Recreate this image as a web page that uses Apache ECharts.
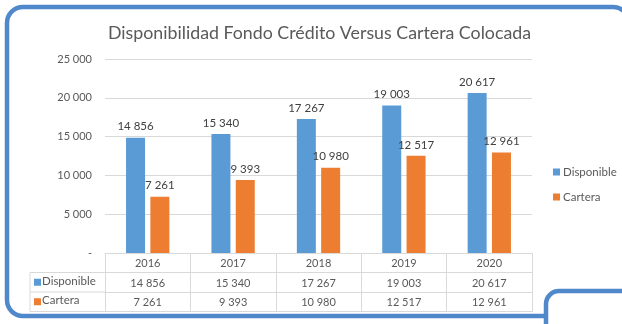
<!DOCTYPE html>
<html>
<head>
<meta charset="utf-8">
<script src="https://cdn.jsdelivr.net/npm/echarts@6/dist/echarts.min.js"></script>
<style>
  html, body { margin: 0; padding: 0; background: #ffffff; }
  #chart { width: 622px; height: 324px; }
</style>
</head>
<body>
<div id="chart"></div>
<script>
// Source values
const years = ['2016', '2017', '2018', '2019', '2020'];
const disponible = [14856, 15340, 17267, 19003, 20617];
const cartera = [7261, 9393, 10980, 12517, 12961];
const seriesNames = ['Disponible', 'Cartera'];
const yMax = 25000;
const yStep = 5000;

// Layout of the plot and its data table
const FONT = 'Lato, "Open Sans", sans-serif';
const TEXT = '#595959';
const LINE = '#d9d9d9';
const BLUE = '#5B9BD5';
const ORANGE = '#ED7D31';
const FRAME = '#4F89CC';
const W = 622, H = 324;
const gridLeft = 105, gridRight = 532, gridTop = 59, gridBottom = 253;
const rowH = 19.5;
const tableLeft = 30;

// thousands with a space, as in "14 856"
const fmt = v => String(v).replace(/\B(?=(\d{3})+(?!\d))/g, ' ');

const chart = echarts.init(document.getElementById('chart'), null, { renderer: 'canvas' });

const tableAxis = (idx, labels, showLabels) => ({
  type: 'category',
  data: labels,
  position: 'bottom',
  offset: rowH * idx,
  axisLine: { show: true, lineStyle: { color: LINE, width: 1 } },
  axisTick: { show: false },
  axisLabel: {
    show: showLabels, margin: 5, color: TEXT, fontFamily: FONT, fontSize: 11
  },
  splitLine: { show: false }
});

const rowY = i => gridBottom + rowH * i;

const option = {
  backgroundColor: '#ffffff',
  animation: false,
  title: {
    text: 'Disponibilidad Fondo Crédito Versus Cartera Colocada',
    left: (gridLeft + gridRight) / 2 - 4,
    textAlign: 'center',
    top: 19,
    textStyle: { color: TEXT, fontFamily: FONT, fontSize: 17.8, fontWeight: 'normal' }
  },
  legend: {
    data: seriesNames,
    orient: 'vertical',
    left: 548,
    top: 161,
    itemWidth: 7,
    itemHeight: 7,
    itemGap: 13,
    icon: 'rect',
    textStyle: { color: TEXT, fontFamily: FONT, fontSize: 11.5, padding: [0, 0, 0, -2] }
  },
  grid: {
    left: gridLeft,
    right: W - gridRight,
    top: gridTop,
    bottom: H - gridBottom,
    containLabel: false
  },
  xAxis: [
    {
      type: 'category',
      data: years,
      position: 'bottom',
      axisLine: { show: true, lineStyle: { color: LINE, width: 1 } },
      axisTick: { show: true, inside: false, length: rowH * 3, lineStyle: { color: LINE } },
      axisLabel: { margin: 5, color: TEXT, fontFamily: FONT, fontSize: 11 },
      splitLine: { show: false }
    },
    tableAxis(1, disponible.map(fmt), true),
    tableAxis(2, cartera.map(fmt), true),
    tableAxis(3, years, false)
  ],
  yAxis: {
    type: 'value',
    min: 0,
    max: yMax,
    interval: yStep,
    axisLine: { show: false },
    axisTick: { show: false },
    axisLabel: {
      margin: 13, color: TEXT, fontFamily: FONT, fontSize: 11,
      formatter: v => (v === 0 ? '-' : fmt(v))
    },
    splitLine: { lineStyle: { color: LINE, width: 1 } }
  },
  series: [
    {
      name: seriesNames[0],
      type: 'bar',
      data: disponible,
      barWidth: 19,
      barGap: '28%',
      itemStyle: { color: BLUE },
      label: {
        show: true, position: 'top', distance: 5,
        color: '#404040', fontFamily: FONT, fontSize: 11.5,
        formatter: p => fmt(p.value)
      }
    },
    {
      name: seriesNames[1],
      type: 'bar',
      data: cartera,
      barWidth: 19,
      itemStyle: { color: ORANGE },
      label: {
        show: true, position: 'top', distance: 5,
        color: '#404040', fontFamily: FONT, fontSize: 11.5,
        formatter: p => fmt(p.value)
      }
    }
  ],
  graphic: [
    // outer rounded frame
    {
      type: 'rect', z: 0, silent: true,
      shape: { x: 7, y: 7, width: 622, height: 309, r: 16 },
      style: { fill: '#ffffff', stroke: FRAME, lineWidth: 4.5 }
    },
    // neighbouring box in the lower right corner
    {
      type: 'rect', z: 1, silent: true,
      shape: { x: 546, y: 291, width: 120, height: 80, r: 13 },
      style: { fill: '#ffffff', stroke: FRAME, lineWidth: 4.5 }
    },
    // table: series-name column
    {
      type: 'line', z: 2, silent: true,
      shape: { x1: tableLeft, y1: rowY(1), x2: gridLeft, y2: rowY(1) },
      style: { stroke: LINE, lineWidth: 1 }
    },
    {
      type: 'line', z: 2, silent: true,
      shape: { x1: tableLeft, y1: rowY(2), x2: gridLeft, y2: rowY(2) },
      style: { stroke: LINE, lineWidth: 1 }
    },
    {
      type: 'line', z: 2, silent: true,
      shape: { x1: tableLeft, y1: rowY(3), x2: gridLeft, y2: rowY(3) },
      style: { stroke: LINE, lineWidth: 1 }
    },
    {
      type: 'line', z: 2, silent: true,
      shape: { x1: tableLeft, y1: rowY(1), x2: tableLeft, y2: rowY(3) },
      style: { stroke: LINE, lineWidth: 1 }
    },
    {
      type: 'rect', z: 2, silent: true,
      shape: { x: tableLeft + 4, y: rowY(1.5) - 3.5, width: 7, height: 7 },
      style: { fill: BLUE }
    },
    {
      type: 'text', z: 2, silent: true,
      left: tableLeft + 12, top: rowY(1.5) - 7,
      style: { text: seriesNames[0], fill: TEXT, font: '11.5px ' + FONT }
    },
    {
      type: 'rect', z: 2, silent: true,
      shape: { x: tableLeft + 4, y: rowY(2.5) - 3.5, width: 7, height: 7 },
      style: { fill: ORANGE }
    },
    {
      type: 'text', z: 2, silent: true,
      left: tableLeft + 12, top: rowY(2.5) - 7,
      style: { text: seriesNames[1], fill: TEXT, font: '11.5px ' + FONT }
    }
  ]
};

chart.setOption(option);
</script>
</body>
</html>
